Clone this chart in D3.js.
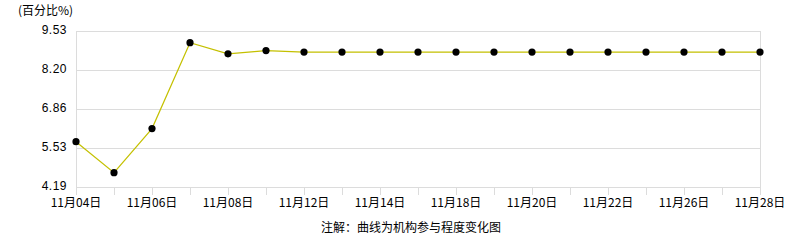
<!DOCTYPE html>
<html>
<head>
<meta charset="utf-8">
<script src="https://cdn.jsdelivr.net/npm/d3@7"></script>
<style>
  body { margin: 0; background: #fff; }
  text { font-family: "Noto Sans CJK SC", "DejaVu Sans", sans-serif; font-size: 12px; fill: #000; }
  text.ylab { font-family: "Liberation Sans", "DejaVu Sans", sans-serif; letter-spacing: 0.5px; }
</style>
</head>
<body>
<script>
// data
var dates = ["11月04日","11月05日","11月06日","11月07日","11月08日","11月11日","11月12日",
  "11月13日","11月14日","11月15日","11月18日","11月19日","11月20日","11月21日",
  "11月22日","11月25日","11月26日","11月27日","11月28日"];
var values = [5.74, 4.68, 6.19, 9.13, 8.75, 8.86, 8.81, 8.81, 8.81, 8.81, 8.81,
  8.81, 8.81, 8.81, 8.81, 8.81, 8.81, 8.81, 8.81];
var yTicks = [4.19, 5.53, 6.86, 8.20, 9.53];

var width = 786, height = 240;
var margin = {top: 31, right: 26, bottom: 53, left: 76};
var w = width - margin.left - margin.right;
var h = height - margin.top - margin.bottom;

var svg = d3.select("body")
  .append("svg")
  .attr("width", width)
  .attr("height", height);

var g = svg.append("g")
  .attr("transform", "translate(" + margin.left + "," + margin.top + ")");

var x = d3.scalePoint().domain(dates).range([0, w]);
var y = d3.scaleLinear().domain([4.19, 9.53]).range([h, 0]);

// grid lines
g.selectAll(".grid")
  .data(yTicks)
  .enter()
  .append("line")
  .attr("x1", 0)
  .attr("x2", w)
  .attr("y1", d => Math.round(y(d)) + 0.5)
  .attr("y2", d => Math.round(y(d)) + 0.5)
  .attr("stroke", "#dcdcdc");

// frame sides
g.append("line").attr("x1", 0.5).attr("x2", 0.5).attr("y1", 0).attr("y2", h)
  .attr("stroke", "#dcdcdc");
g.append("line").attr("x1", w + 0.5).attr("x2", w + 0.5).attr("y1", 0).attr("y2", h)
  .attr("stroke", "#dcdcdc");

// y labels
g.selectAll(".ylab")
  .data(yTicks)
  .enter()
  .append("text")
  .attr("class", "ylab")
  .attr("x", -9)
  .attr("y", d => y(d))
  .attr("dy", "0.28em")
  .attr("text-anchor", "end")
  .text(d => d.toFixed(2));

// x ticks
g.selectAll(".xtick")
  .data(dates)
  .enter()
  .append("line")
  .attr("x1", d => Math.round(x(d)) + 0.5)
  .attr("x2", d => Math.round(x(d)) + 0.5)
  .attr("y1", h)
  .attr("y2", h + 8)
  .attr("stroke", "#dcdcdc");

g.selectAll(".xlab")
  .data(dates.filter((d, i) => i % 2 === 0))
  .enter()
  .append("text")
  .attr("x", d => x(d))
  .attr("y", h + 20)
  .attr("text-anchor", "middle")
  .text(d => d);

// line
var line = d3.line()
  .x((d, i) => x(dates[i]))
  .y(d => y(d));

g.append("path")
  .datum(values)
  .attr("d", line)
  .attr("fill", "none")
  .attr("stroke", "#c4c000")
  .attr("stroke-width", 1.2);

g.selectAll(".dot")
  .data(values)
  .enter()
  .append("circle")
  .attr("cx", (d, i) => x(dates[i]))
  .attr("cy", d => y(d))
  .attr("r", 3.6)
  .attr("fill", "#000");

// titles
svg.append("text")
  .attr("x", 18)
  .attr("y", 15)
  .text("(百分比%)");

svg.append("text")
  .attr("x", 411)
  .attr("y", 232)
  .attr("text-anchor", "middle")
  .text("注解：曲线为机构参与程度变化图");
</script>
</body>
</html>
